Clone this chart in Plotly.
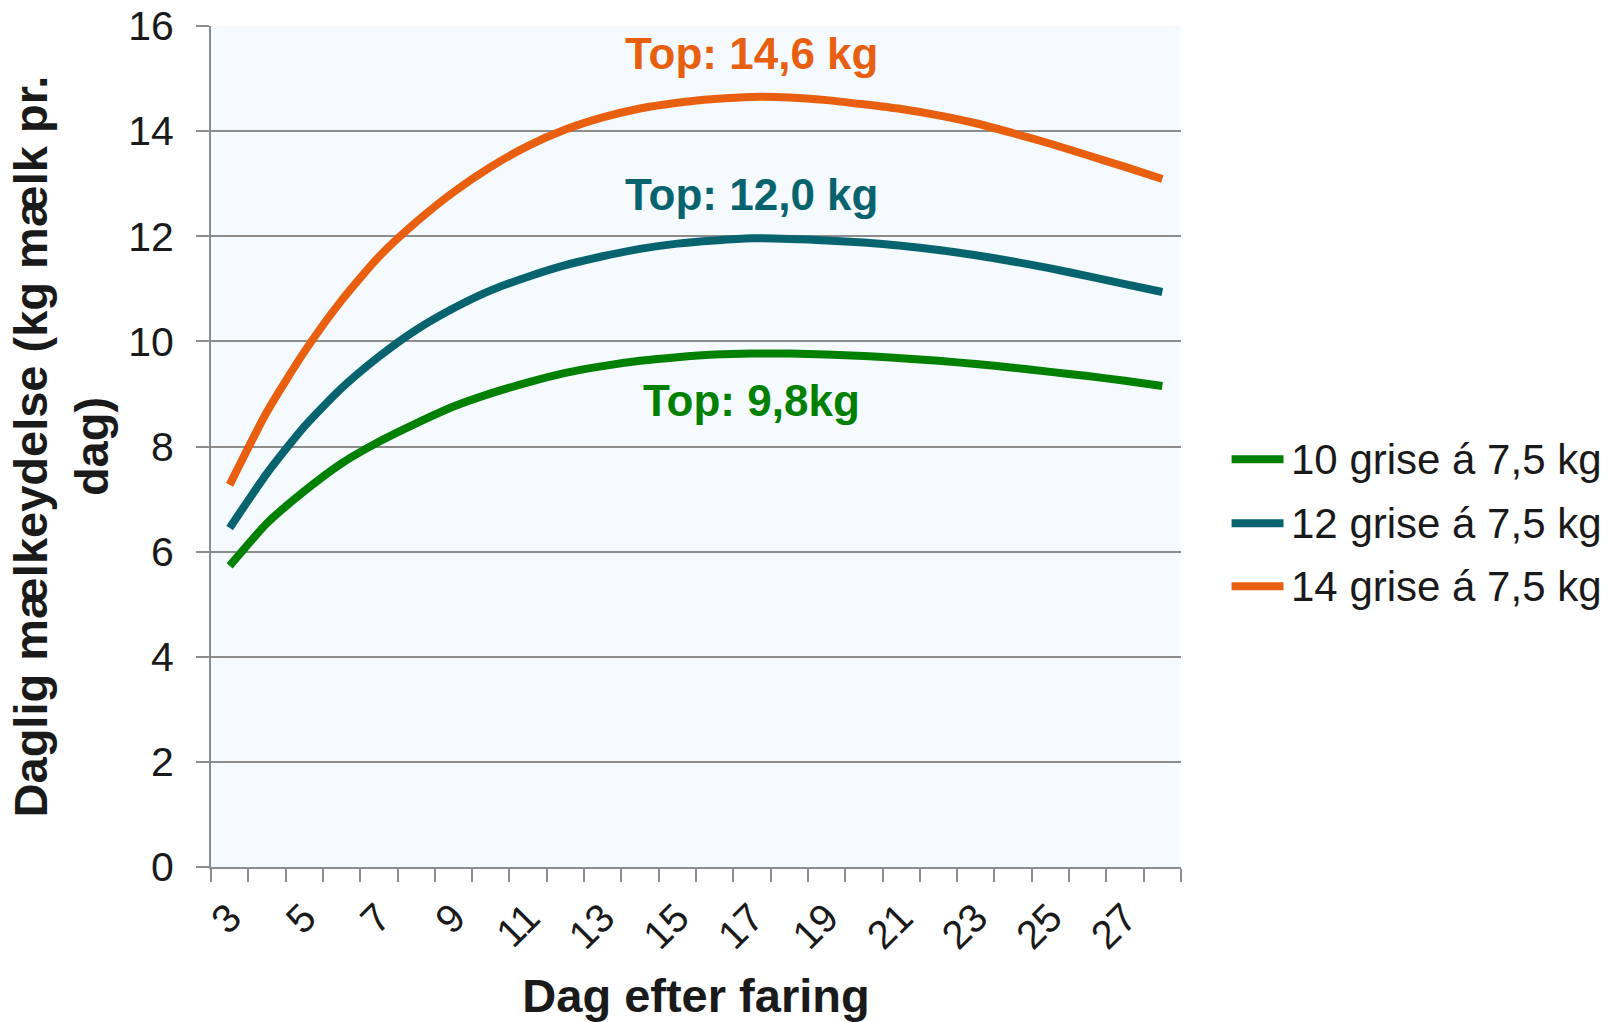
import plotly.graph_objects as go

# Day after farrowing (categories on the x axis)
days = list(range(3, 29))
x_tick_labels = [str(d) for d in range(3, 28, 2)]

# Daily milk yield (kg milk per day) for each litter size
milk_10 = [5.73, 6.54, 7.15, 7.68, 8.09, 8.44, 8.76, 9.01, 9.22, 9.40,
           9.53, 9.63, 9.70, 9.75, 9.77, 9.77, 9.75, 9.72, 9.68, 9.63,
           9.57, 9.50, 9.42, 9.34, 9.25, 9.15]
milk_12 = [6.45, 7.49, 8.38, 9.11, 9.71, 10.22, 10.63, 10.97, 11.23, 11.45,
           11.62, 11.76, 11.86, 11.92, 11.96, 11.95, 11.92, 11.88, 11.82, 11.74,
           11.64, 11.52, 11.39, 11.24, 11.09, 10.94]
milk_14 = [7.27, 8.66, 9.80, 10.78, 11.61, 12.27, 12.84, 13.32, 13.72, 14.03,
           14.26, 14.43, 14.54, 14.61, 14.65, 14.64, 14.59, 14.51, 14.42, 14.30,
           14.15, 13.96, 13.76, 13.54, 13.32, 13.09]

series_names = ["10 grise á 7,5 kg", "12 grise á 7,5 kg", "14 grise á 7,5 kg"]
series_values = [milk_10, milk_12, milk_14]
series_colors = ["#008000", "#07646F", "#E8600F"]

# Peak labels: text, day and y position
peak_texts = ["Top: 9,8kg", "Top: 12,0 kg", "Top: 14,6 kg"]
peak_days = [17, 17, 17]
peak_label_y = [8.88, 12.80, 15.47]

FONT = "Liberation Sans, Arial, Helvetica, sans-serif"
GRID = "#8C8C8C"
TEXT = "#1A1A1A"

fig = go.Figure()

for name, vals, color in zip(series_names, series_values, series_colors):
    fig.add_trace(go.Scatter(
        x=days, y=vals, mode="lines", name=name,
        line=dict(color=color, width=8, shape="spline", smoothing=0.6),
        showlegend=False,
    ))

# Peak annotations
for txt, d, yv, color in zip(peak_texts, peak_days, peak_label_y, series_colors):
    fig.add_annotation(
        x=d, y=yv, xref="x", yref="y", text=f"<b>{txt}</b>",
        showarrow=False, font=dict(family=FONT, size=44, color=color),
        xanchor="center", yanchor="middle",
    )

# Legend drawn at the right of the plot: a short line plus its label
plot_left, plot_right = 210.8, 1181.4
plot_top, plot_bottom = 25.8, 866.9
pw, ph = plot_right - plot_left, plot_bottom - plot_top
legend_rows_px = [459, 523, 586]
for name, color, ypx in zip(series_names, series_colors, legend_rows_px):
    yp = (plot_bottom - ypx) / ph
    fig.add_shape(
        type="line", xref="paper", yref="paper",
        x0=(1232 - plot_left) / pw, x1=(1284 - plot_left) / pw, y0=yp, y1=yp,
        line=dict(color=color, width=8),
    )
    fig.add_annotation(
        x=(1289 - plot_left) / pw, y=yp, xref="paper", yref="paper",
        text=name, showarrow=False, xanchor="left", yanchor="middle",
        font=dict(family=FONT, size=42, color=TEXT),
    )

fig.update_layout(
    width=1620, height=1022,
    margin=dict(l=211, r=1620 - 1181, t=26, b=1022 - 867, autoexpand=False),
    paper_bgcolor="white",
    plot_bgcolor="#F5FAFE",
    font=dict(family=FONT, color=TEXT, size=40),
    showlegend=False,
)

fig.update_xaxes(
    range=[2.5, 28.5],
    tickmode="array", tickvals=[int(t) for t in x_tick_labels], ticktext=x_tick_labels,
    tickangle=-45, ticks="", tickfont=dict(size=40, color=TEXT),
    ticklabelstandoff=9,
    showgrid=False, zeroline=False,
    showline=True, linecolor=GRID, linewidth=2,
    minor=dict(ticks="outside", ticklen=13, tickwidth=2, tickcolor=GRID,
               tickmode="array", tickvals=[d - 0.5 for d in days] + [days[-1] + 0.5],
               showgrid=False),
    title=dict(text="<b>Dag efter faring</b>", font=dict(size=47, color=TEXT), standoff=28),
    automargin=False,
)

fig.update_yaxes(
    range=[0, 16], tickmode="linear", tick0=0, dtick=2,
    ticks="outside", ticklen=13, tickwidth=2, tickcolor=GRID,
    ticklabelstandoff=14,
    tickfont=dict(size=41, color=TEXT),
    showgrid=True, gridcolor=GRID, gridwidth=2,
    zeroline=False, showline=True, linecolor=GRID, linewidth=2,
    title=dict(text="<b>Daglig mælkeydelse (kg mælk pr.<br>dag)</b>",
               font=dict(size=47, color=TEXT), standoff=5),
    automargin=False,
)

fig.write_html("out.html")
